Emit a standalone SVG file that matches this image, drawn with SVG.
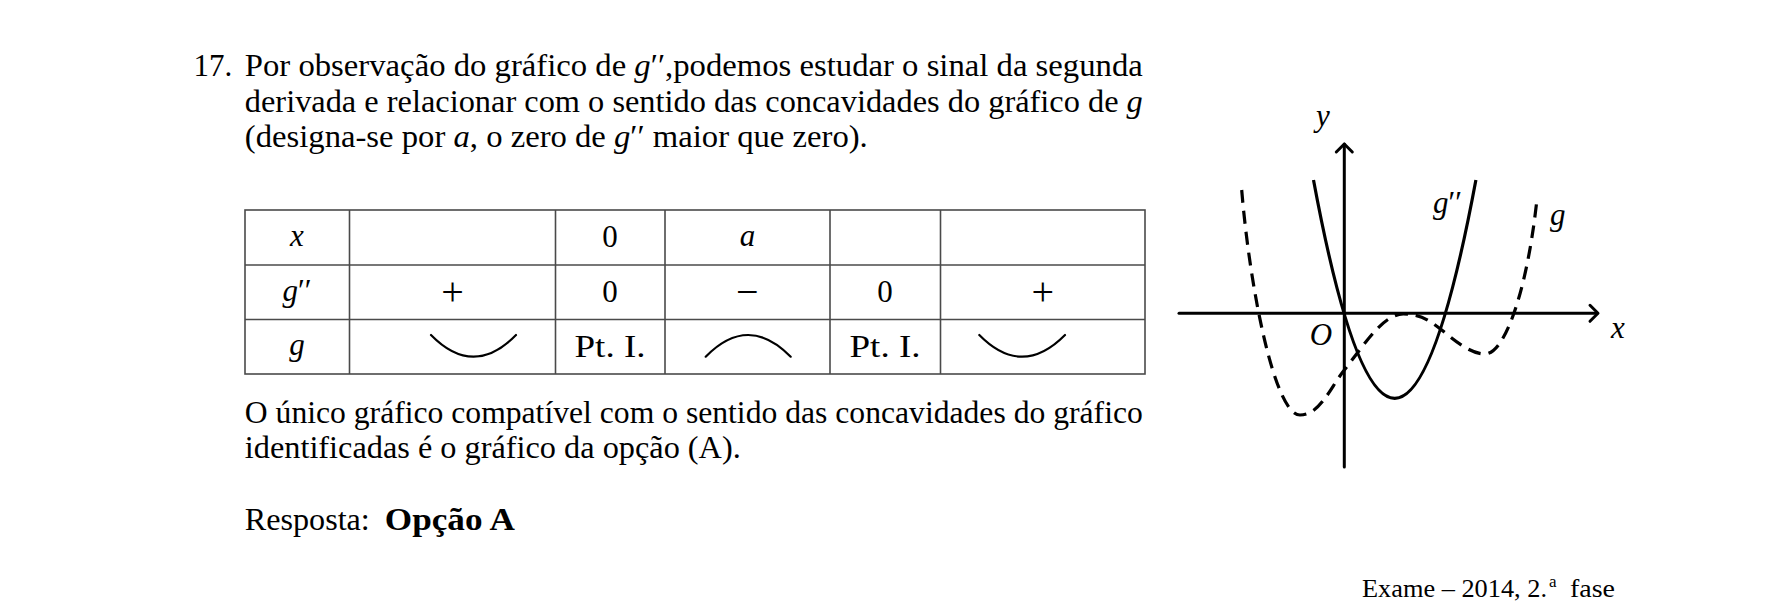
<svg xmlns="http://www.w3.org/2000/svg" width="1785" height="603" viewBox="0 0 1785 603">
<style>
.t{font-family:"Liberation Serif","Times New Roman",serif;font-size:31px;fill:#000}
.s{font-size:40px}
.f{font-size:25.5px}
.sup{font-size:17px}
.i{font-style:italic}
.b{font-weight:bold}
.c{text-anchor:middle}
.grid{stroke:#4a4a4a;stroke-width:1.6;fill:none}
.shape{stroke:#000;stroke-width:2.2;fill:none;stroke-linecap:round}
.axis{stroke:#000;stroke-width:3;fill:none;stroke-linecap:round;stroke-linejoin:round}
.curve{stroke:#000;stroke-width:3.2;fill:none}
.dash{stroke-dasharray:13 8}
</style>
<rect width="1785" height="603" fill="#fff"/>

<g id="text-intro">
<text class="t" x="193.5" y="76">17.</text>
<text class="t" x="244.8" y="76" textLength="898" lengthAdjust="spacingAndGlyphs">Por observação do gráfico de <tspan class="i">g</tspan>′′,podemos estudar o sinal da segunda</text>
<text class="t" x="244.8" y="111.5" textLength="898" lengthAdjust="spacingAndGlyphs">derivada e relacionar com o sentido das concavidades do gráfico de <tspan class="i">g</tspan></text>
<text class="t" x="244.8" y="147" textLength="623" lengthAdjust="spacingAndGlyphs">(designa-se por <tspan class="i">a</tspan>, o zero de <tspan class="i">g</tspan>′′ maior que zero).</text>
</g>

<g id="table">
<rect class="grid" x="245" y="210" width="900" height="164"/>
<line class="grid" x1="245" y1="265" x2="1145" y2="265"/>
<line class="grid" x1="245" y1="319.5" x2="1145" y2="319.5"/>
<line class="grid" x1="349.5" y1="210" x2="349.5" y2="374"/>
<line class="grid" x1="555.5" y1="210" x2="555.5" y2="374"/>
<line class="grid" x1="665" y1="210" x2="665" y2="374"/>
<line class="grid" x1="830" y1="210" x2="830" y2="374"/>
<line class="grid" x1="940.5" y1="210" x2="940.5" y2="374"/>
<text class="t c i" x="297" y="246">x</text>
<text class="t c" x="610" y="247">0</text>
<text class="t c i" x="747.4" y="246">a</text>
<text class="t c" x="297" y="301"><tspan class="i">g</tspan>′′</text>
<text class="t s c" x="452.5" y="305">+</text>
<text class="t c" x="610" y="301.5">0</text>
<text class="t s c" x="747.4" y="305">−</text>
<text class="t c" x="885" y="301.5">0</text>
<text class="t s c" x="1042.8" y="305">+</text>
<text class="t c i" x="297" y="355">g</text>
<text class="t c" x="610" y="356.5" textLength="71" lengthAdjust="spacingAndGlyphs">Pt. I.</text>
<text class="t c" x="885" y="356.5" textLength="71" lengthAdjust="spacingAndGlyphs">Pt. I.</text>
<path class="shape" d="M431,335 Q473.5,378.4 516,335"/>
<path class="shape" d="M705.7,356.7 Q748.2,313.3 790.7,356.7"/>
<path class="shape" d="M979.3,335 Q1022,378.4 1065,335"/>
</g>

<g id="text-conclusion">
<text class="t" x="244.8" y="423" textLength="898" lengthAdjust="spacingAndGlyphs">O único gráfico compatível com o sentido das concavidades do gráfico</text>
<text class="t" x="244.8" y="458" textLength="496" lengthAdjust="spacingAndGlyphs">identificadas é o gráfico da opção (A).</text>
<text class="t" x="244.8" y="530" textLength="125" lengthAdjust="spacingAndGlyphs">Resposta:</text>
<text class="t b" x="384.8" y="530" textLength="130" lengthAdjust="spacingAndGlyphs">Opção A</text>
</g>

<g id="footer">
<text class="t f" x="1362" y="597" textLength="185" lengthAdjust="spacingAndGlyphs">Exame – 2014, 2.</text>
<text class="t sup" x="1549" y="587">a</text>
<text class="t f" x="1570" y="597" textLength="45" lengthAdjust="spacingAndGlyphs">fase</text>
</g>

<g id="graph">
<g id="axes">
<line class="axis" x1="1179" y1="313.3" x2="1597" y2="313.3"/>
<polyline class="axis" points="1590,305.3 1598,313.3 1590,321.3"/>
<line class="axis" x1="1344.3" y1="467" x2="1344.3" y2="144"/>
<polyline class="axis" points="1336.3,152 1344.3,144 1352.3,152"/>
</g>
<g id="curves">
<path id="g2" class="curve" d="M1313.5,180 Q1394.7,616.6 1475.9,180"/>
<path id="g" class="curve dash" d="M1241.7,190 C1250,290 1275,415 1300,415 C1320,415 1330,388 1344.3,370 C1364.3,344.8 1383,314 1403.3,314 C1420,314 1429.7,320.4 1441.7,330 C1453.7,339.6 1470,354 1485,354 C1505,354 1527,290 1536.7,201.7"/>
</g>
<g id="labels">
<text class="t c i" x="1323" y="126">y</text>
<text class="t c i" x="1618" y="338">x</text>
<text class="t c i" x="1321" y="345">O</text>
<text class="t" x="1433" y="213"><tspan class="i">g</tspan>′′</text>
<text class="t i" x="1550" y="225">g</text>
</g>
</g>
</svg>
